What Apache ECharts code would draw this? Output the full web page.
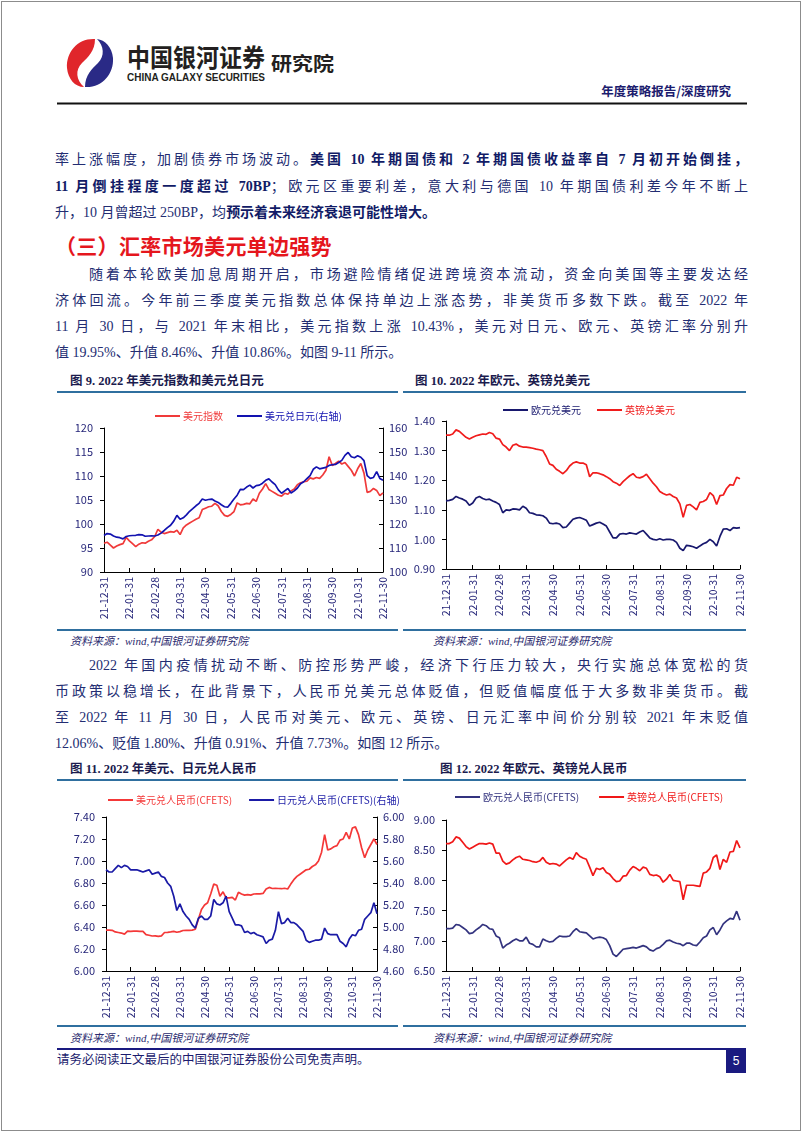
<!DOCTYPE html>
<html><head><meta charset="utf-8">
<script src="https://cdn.jsdelivr.net/npm/echarts@6/dist/echarts.min.js"></script>
<style>
html,body{margin:0;padding:0;background:#fff;}
body{width:802px;height:1133px;position:relative;overflow:hidden;font-family:"Liberation Serif","Noto Sans CJK SC",serif;}
.frame{position:absolute;left:1px;top:1px;width:798px;height:1128px;border:1px solid #8c8c8c;}
.ln{position:absolute;left:55px;width:693px;height:20px;line-height:20px;font-size:14px;color:#232d72;}
.ind{left:89px;width:659px;}
.j{text-align:justify;text-align-last:justify;}
b{color:#111b66;font-weight:bold;}
.h3{position:absolute;left:55px;top:230px;font-size:21px;font-weight:bold;color:#e5161d;font-family:"Noto Sans CJK SC",sans-serif;letter-spacing:0.3px;}
.ttl{position:absolute;font-size:12.5px;font-weight:bold;color:#1b1b4e;font-family:"Liberation Serif","Noto Sans CJK SC",serif;height:16px;line-height:16px;}
.rule{position:absolute;height:2px;background:#2f6f9f;}
.src{position:absolute;font-size:11px;font-style:italic;color:#2a2a6e;height:14px;line-height:14px;}
.chart{position:absolute;}
</style></head>
<body>
<div class="frame"></div>

<svg style="position:absolute;left:0;top:0" width="802" height="110">
  <g transform="translate(64,37)">
    <path d="M31 2 C14 1 2 15 3 31 C4 42 11 50 20 50 C12 43 11 33 18 26 C24 20 31 14 31 2 Z" fill="#e0262b"/>
    <path d="M21 50 C38 51 50 37 49 21 C48 10 41 3 33 2 C40 9 41 19 34 26 C28 32 21 38 21 50 Z" fill="#2a2a86"/>
  </g>
  <text x="127" y="67" font-family="Noto Sans CJK SC" font-weight="bold" font-size="25" fill="#231f20" textLength="138" lengthAdjust="spacingAndGlyphs">中国银河证券</text>
  <text x="127" y="81" font-family="Liberation Sans" font-weight="bold" font-size="10.5" fill="#231f20" textLength="138" lengthAdjust="spacingAndGlyphs">CHINA GALAXY SECURITIES</text>
  <text x="271" y="71" font-family="Noto Sans CJK SC" font-weight="bold" font-size="19" fill="#231f20" textLength="63" lengthAdjust="spacingAndGlyphs">研究院</text>
  <text x="731" y="96" text-anchor="end" font-family="Noto Sans CJK SC" font-weight="bold" font-size="12.5" fill="#1c1c6e">年度策略报告/深度研究</text>
  <line x1="57" y1="103.5" x2="747" y2="103.5" stroke="#111" stroke-width="2"/>
</svg>

<div class="ln j" style="top:150px">率上涨幅度，加剧债券市场波动。<b>美国 10 年期国债和 2 年期国债收益率自 7 月初开始倒挂，</b></div>
<div class="ln j" style="top:177px"><b>11 月倒挂程度一度超过 70BP</b>；欧元区重要利差，意大利与德国 10 年期国债利差今年不断上</div>
<div class="ln" style="top:203px">升，10 月曾超过 250BP，均<b>预示着未来经济衰退可能性增大。</b></div>

<div class="h3">（三）汇率市场美元单边强势</div>

<div class="ln ind j" style="top:265px">随着本轮欧美加息周期开启，市场避险情绪促进跨境资本流动，资金向美国等主要发达经</div>
<div class="ln j" style="top:291px">济体回流。今年前三季度美元指数总体保持单边上涨态势，非美货币多数下跌。截至 2022 年</div>
<div class="ln j" style="top:317px">11 月 30 日，与 2021 年末相比，美元指数上涨 10.43%，美元对日元、欧元、英镑汇率分别升</div>
<div class="ln" style="top:343px">值 19.95%、升值 8.46%、升值 10.86%。如图 9-11 所示。</div>

<div class="ttl" style="left:70px;top:373px">图 9. 2022 年美元指数和美元兑日元</div>
<div class="ttl" style="left:415px;top:373px">图 10. 2022 年欧元、英镑兑美元</div>
<div class="rule" style="left:57px;width:341px;top:391px"></div>
<div class="rule" style="left:403px;width:343px;top:391px"></div>
<div id="c9" class="chart" style="left:57px;top:398px;width:360px;height:230px"></div>
<div id="c10" class="chart" style="left:403px;top:398px;width:380px;height:230px"></div>
<div class="rule" style="left:57px;width:341px;top:629px"></div>
<div class="rule" style="left:403px;width:343px;top:629px"></div>
<div class="src" style="left:70px;top:634px">资料来源：wind,中国银河证券研究院</div>
<div class="src" style="left:433px;top:634px">资料来源：wind,中国银河证券研究院</div>

<div class="ln ind j" style="top:656px">2022 年国内疫情扰动不断、防控形势严峻，经济下行压力较大，央行实施总体宽松的货</div>
<div class="ln j" style="top:682px">币政策以稳增长，在此背景下，人民币兑美元总体贬值，但贬值幅度低于大多数非美货币。截</div>
<div class="ln j" style="top:708px">至 2022 年 11 月 30 日，人民币对美元、欧元、英镑、日元汇率中间价分别较 2021 年末贬值</div>
<div class="ln" style="top:734px">12.06%、贬值 1.80%、升值 0.91%、升值 7.73%。如图 12 所示。</div>

<div class="ttl" style="left:70px;top:761px">图 11. 2022 年美元、日元兑人民币</div>
<div class="ttl" style="left:440px;top:761px">图 12. 2022 年欧元、英镑兑人民币</div>
<div class="rule" style="left:57px;width:341px;top:779px"></div>
<div class="rule" style="left:403px;width:343px;top:779px"></div>
<div id="c11" class="chart" style="left:57px;top:785px;width:360px;height:240px"></div>
<div id="c12" class="chart" style="left:403px;top:785px;width:380px;height:240px"></div>
<div class="rule" style="left:57px;width:341px;top:1025px"></div>
<div class="rule" style="left:403px;width:343px;top:1025px"></div>
<div class="src" style="left:70px;top:1031px">资料来源：wind,中国银河证券研究院</div>
<div class="src" style="left:433px;top:1031px">资料来源：wind,中国银河证券研究院</div>

<div style="position:absolute;left:57px;top:1048px;width:689px;height:2px;background:#1a1a80"></div>
<div style="position:absolute;left:57px;top:1052px;font-size:12.5px;color:#1c1c6e;line-height:16px">请务必阅读正文最后的中国银河证券股份公司免责声明。</div>
<div style="position:absolute;left:726px;top:1049px;width:20px;height:24px;background:#1a1a80;color:#fff;font-family:'Liberation Sans';font-size:12px;line-height:24px;text-align:center">5</div>

<script>
// ---- categories (sampled trading dates) ----
const dates = ["21-12-31",
"22-01-04","22-01-07","22-01-11","22-01-14","22-01-18","22-01-21","22-01-26","22-01-31",
"22-02-04","22-02-08","22-02-11","22-02-15","22-02-18","22-02-22","22-02-25","22-02-28",
"22-03-04","22-03-08","22-03-11","22-03-15","22-03-18","22-03-22","22-03-25","22-03-31",
"22-04-04","22-04-08","22-04-12","22-04-15","22-04-19","22-04-22","22-04-26","22-04-30",
"22-05-04","22-05-08","22-05-12","22-05-15","22-05-19","22-05-22","22-05-26","22-05-31",
"22-06-04","22-06-08","22-06-11","22-06-15","22-06-18","22-06-22","22-06-25","22-06-30",
"22-07-04","22-07-08","22-07-12","22-07-15","22-07-19","22-07-22","22-07-26","22-07-31",
"22-08-04","22-08-08","22-08-12","22-08-15","22-08-19","22-08-22","22-08-26","22-08-31",
"22-09-04","22-09-08","22-09-11","22-09-15","22-09-18","22-09-22","22-09-25","22-09-30",
"22-10-04","22-10-08","22-10-12","22-10-15","22-10-19","22-10-22","22-10-26","22-10-31",
"22-11-04","22-11-08","22-11-11","22-11-15","22-11-18","22-11-22","22-11-25","22-11-30"];
// ---- tick labels shown on the x axis ----
const monthEnds = ["21-12-31","22-01-31","22-02-28","22-03-31","22-04-30","22-05-31","22-06-30","22-07-31","22-08-31","22-09-30","22-10-31","22-11-30"];

// ---- Fig 9 ----
const usdIndex = [96.0,
96.2,95.6,95.0,95.4,95.7,95.9,97.2,96.5,
95.9,95.3,95.8,96.1,96.0,96.4,96.7,97.4,
98.9,98.3,98.0,98.2,98.4,98.3,98.7,97.8,
99.2,99.8,100.2,100.6,101.0,101.3,103.0,103.3,
103.6,103.7,104.3,103.8,102.6,101.8,101.6,102.0,
102.6,104.4,104.0,104.1,104.3,104.2,105.2,104.7,
106.4,107.3,108.4,107.2,106.8,106.4,106.0,105.8,
106.4,106.2,106.9,107.3,108.2,108.6,108.8,108.9,
109.6,109.4,109.7,109.5,110.2,111.2,114.0,112.2,
112.6,113.1,112.5,112.8,112.0,111.2,110.0,111.5,
112.6,110.6,106.6,106.8,107.4,107.0,105.9,106.5];
const usdJpy = [115.2,
116.0,115.8,115.0,114.5,114.3,113.8,114.8,115.1,
115.2,115.3,115.6,115.5,114.9,115.0,115.1,115.0,
115.4,116.2,117.3,118.5,119.5,121.2,123.6,122.0,
122.6,123.8,125.3,126.4,127.6,128.6,130.4,129.9,
130.2,130.4,129.6,129.0,128.0,127.2,127.0,128.6,
130.4,132.0,134.4,134.3,135.4,136.2,135.0,136.0,
136.2,137.0,138.2,138.8,137.5,136.4,134.2,132.8,
133.8,134.8,132.9,133.8,135.0,136.8,137.6,138.9,
140.2,142.8,143.8,143.0,143.3,143.6,144.4,144.7,
144.8,145.6,146.5,148.6,149.8,148.0,147.6,148.4,
147.8,146.4,140.2,139.0,139.4,141.8,139.0,138.2];

// ---- Fig 10 ----
const eurUsd = [1.130,
1.132,1.135,1.145,1.140,1.136,1.130,1.115,1.123,
1.140,1.145,1.138,1.134,1.136,1.130,1.125,1.118,
1.090,1.100,1.098,1.103,1.102,1.100,1.112,1.105,
1.090,1.088,1.083,1.082,1.080,1.072,1.055,1.053,
1.055,1.052,1.040,1.042,1.055,1.068,1.072,1.074,
1.070,1.065,1.045,1.050,1.055,1.058,1.052,1.045,
1.025,1.005,1.005,1.018,1.020,1.018,1.022,1.020,
1.018,1.025,1.030,1.018,1.005,1.000,0.998,1.002,
0.998,1.000,1.000,0.998,0.990,0.970,0.962,0.980,
0.978,0.975,0.970,0.978,0.985,0.990,1.000,0.992,
0.978,1.010,1.035,1.036,1.030,1.040,1.038,1.040];
const gbpUsd = [1.352,
1.352,1.356,1.370,1.365,1.355,1.345,1.339,1.345,
1.350,1.353,1.356,1.355,1.361,1.357,1.342,1.339,
1.320,1.312,1.300,1.318,1.322,1.315,1.312,1.312,
1.310,1.308,1.305,1.303,1.300,1.280,1.255,1.250,
1.237,1.230,1.222,1.232,1.248,1.258,1.262,1.258,
1.258,1.252,1.212,1.225,1.225,1.222,1.218,1.212,
1.205,1.195,1.190,1.182,1.195,1.205,1.215,1.222,
1.210,1.208,1.212,1.220,1.205,1.190,1.178,1.162,
1.155,1.150,1.153,1.145,1.140,1.120,1.075,1.115,
1.118,1.110,1.100,1.125,1.128,1.135,1.158,1.148,
1.118,1.148,1.150,1.172,1.185,1.183,1.210,1.205];

// ---- Fig 11 ----
const usdCny = [6.372,
6.372,6.370,6.355,6.350,6.345,6.335,6.362,6.360,
6.362,6.363,6.360,6.360,6.330,6.325,6.318,6.320,
6.315,6.320,6.350,6.352,6.355,6.360,6.352,6.358,
6.368,6.370,6.370,6.372,6.380,6.470,6.560,6.600,
6.620,6.700,6.790,6.780,6.680,6.720,6.665,6.665,
6.670,6.645,6.715,6.700,6.690,6.695,6.690,6.700,
6.702,6.702,6.705,6.745,6.760,6.750,6.752,6.750,
6.748,6.752,6.745,6.790,6.830,6.860,6.880,6.900,
6.920,6.925,6.950,6.965,7.000,7.080,7.240,7.100,
7.110,7.130,7.140,7.190,7.200,7.260,7.200,7.300,
7.310,7.240,7.120,7.030,7.100,7.150,7.200,7.150];
const jpyCny = [5.52,
5.50,5.50,5.53,5.56,5.54,5.56,5.55,5.52,
5.52,5.52,5.51,5.50,5.51,5.52,5.48,5.49,
5.50,5.46,5.45,5.40,5.37,5.28,5.15,5.21,
5.14,5.10,5.07,5.02,4.99,5.08,5.10,5.07,
5.07,5.10,5.25,5.21,5.20,5.22,5.28,5.14,
5.08,5.02,5.02,5.01,4.95,4.96,4.94,4.95,
4.93,4.92,4.91,4.85,4.88,4.89,4.97,5.14,
5.03,5.04,5.08,5.04,5.04,5.02,4.99,4.96,
4.88,4.86,4.87,4.88,4.88,4.89,4.99,4.94,
4.93,4.93,4.93,4.87,4.85,4.82,4.89,4.93,
4.92,4.97,4.98,5.07,5.10,5.13,5.22,5.12];

// ---- Fig 12 ----
const eurCny = [7.20,
7.20,7.21,7.27,7.26,7.22,7.18,7.12,7.13,
7.18,7.22,7.27,7.25,7.20,7.19,7.08,7.05,
6.88,6.93,6.96,7.00,7.03,7.00,7.00,7.06,
6.96,6.94,6.90,6.90,7.03,7.00,6.98,6.99,
7.04,7.08,7.07,7.07,7.08,7.15,7.20,7.15,
7.14,7.13,7.08,7.03,7.05,7.06,7.05,7.02,
6.92,6.78,6.74,6.80,6.86,6.87,6.88,6.89,
6.88,6.90,6.92,6.90,6.85,6.83,6.87,6.89,
6.94,7.00,7.01,6.98,6.96,6.95,6.92,6.96,
6.96,6.93,6.92,6.98,7.05,7.08,7.18,7.22,
7.10,7.18,7.28,7.33,7.37,7.36,7.49,7.34];
const gbpCny = [8.61,
8.61,8.64,8.72,8.70,8.63,8.56,8.52,8.55,
8.58,8.61,8.61,8.60,8.62,8.60,8.45,8.45,
8.32,8.27,8.29,8.34,8.38,8.40,8.35,8.34,
8.33,8.31,8.30,8.32,8.38,8.30,8.27,8.28,
8.27,8.24,8.29,8.34,8.38,8.35,8.46,8.40,
8.37,8.35,8.22,8.08,8.20,8.18,8.21,8.13,
8.10,8.03,7.98,7.99,8.07,8.08,8.17,8.23,
8.20,8.16,8.22,8.20,8.10,8.08,8.09,8.06,
7.97,8.02,8.10,8.00,7.99,7.98,7.68,7.92,
7.92,7.92,7.91,7.90,8.12,8.14,8.20,8.38,
8.42,8.18,8.35,8.30,8.47,8.48,8.66,8.54];

const FONT = '"Noto Sans CJK SC", sans-serif';
const LABEL = '#27277a';
const isMonthEnd = (i, v) => monthEnds.indexOf(v) >= 0;

function drawChart(id, cfg) {
  const chart = echarts.init(document.getElementById(id));
  const yAxis = cfg.axes.map((a, i) => ({
    type: 'value', min: a.min, max: a.max, interval: a.interval,
    position: i === 0 ? 'left' : 'right',
    axisLine: { show: true, lineStyle: { color: '#000', width: 1 } },
    axisTick: { show: true, inside: i === 1, length: 4, lineStyle: { color: '#000' } },
    splitLine: { show: false },
    axisLabel: { color: LABEL, fontSize: 11, fontFamily: FONT, margin: i === 0 ? 11 : 6,
      formatter: v => v.toFixed(a.dec) }
  }));
  chart.setOption({
    animation: false,
    grid: cfg.grid,
    legend: {
      left: cfg.legend.left, top: cfg.legend.top, width: 600, icon: 'rect', itemWidth: 25, itemHeight: 2,
      itemGap: cfg.legend.gap,
      textStyle: { fontSize: 10, fontFamily: FONT, padding: [0, 0, 0, -2] },
      data: cfg.series.map(s => ({ name: s.name, textStyle: { color: s.color } }))
    },
    xAxis: {
      type: 'category', data: dates, boundaryGap: false,
      axisLine: { show: true, lineStyle: { color: '#000', width: 1 } },
      axisTick: { show: true, inside: true, length: 4, interval: isMonthEnd, lineStyle: { color: '#000' } },
      axisLabel: { interval: isMonthEnd, rotate: 90, color: LABEL, fontSize: 10.5, fontFamily: FONT, margin: 5 }
    },
    yAxis: yAxis,
    series: cfg.series.map(s => ({
      name: s.name, type: 'line', data: s.data, yAxisIndex: s.axis || 0,
      showSymbol: false, symbol: 'none', lineStyle: { color: s.color, width: 1.7 },
      itemStyle: { color: s.color }
    }))
  });
}

drawChart('c9', {
  grid: { left: 47, top: 30, width: 279, height: 144 },
  legend: { left: 93, top: 8, gap: 14 },
  axes: [{ min: 90, max: 120, interval: 5, dec: 0 }, { min: 100, max: 160, interval: 10, dec: 0 }],
  series: [
    { name: '美元指数', data: usdIndex, color: '#f03a3a' },
    { name: '美元兑日元(右轴)', data: usdJpy, color: '#1212b0', axis: 1 }
  ]
});
drawChart('c10', {
  grid: { left: 43, top: 23, width: 294, height: 148 },
  legend: { left: 95, top: 2, gap: 16 },
  axes: [{ min: 0.9, max: 1.4, interval: 0.1, dec: 2 }],
  series: [
    { name: '欧元兑美元', data: eurUsd, color: '#18186e' },
    { name: '英镑兑美元', data: gbpUsd, color: '#f01c1c' }
  ]
});
drawChart('c11', {
  grid: { left: 49, top: 32, width: 271, height: 154 },
  legend: { left: 46, top: 5, gap: 17 },
  axes: [{ min: 6.0, max: 7.4, interval: 0.2, dec: 2 }, { min: 4.6, max: 6.0, interval: 0.2, dec: 2 }],
  series: [
    { name: '美元兑人民币(CFETS)', data: usdCny, color: '#f43838' },
    { name: '日元兑人民币(CFETS)(右轴)', data: jpyCny, color: '#1a1aa6', axis: 1 }
  ]
});
drawChart('c12', {
  grid: { left: 43, top: 35, width: 294, height: 151 },
  legend: { left: 47, top: 2, gap: 20 },
  axes: [{ min: 6.5, max: 9.0, interval: 0.5, dec: 2 }],
  series: [
    { name: '欧元兑人民币(CFETS)', data: eurCny, color: '#33337f' },
    { name: '英镑兑人民币(CFETS)', data: gbpCny, color: '#f01818' }
  ]
});
</script>
</body></html>
